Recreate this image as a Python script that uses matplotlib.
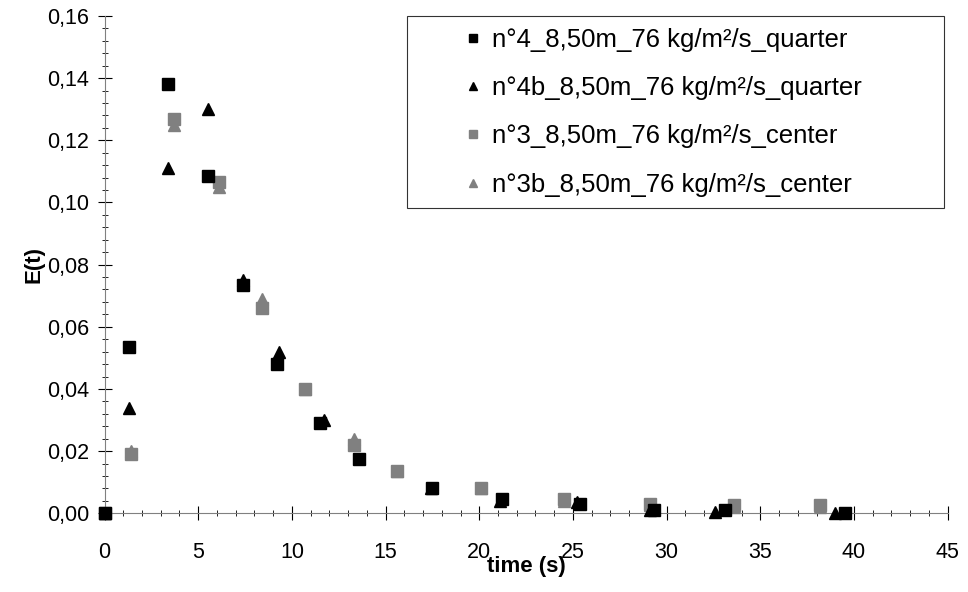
import matplotlib
matplotlib.use("Agg")
import matplotlib.pyplot as plt
from matplotlib.ticker import MultipleLocator, FuncFormatter

plt.rcParams['font.family'] = ['Liberation Sans', 'DejaVu Sans']

# n°4 quarter (black squares)
t4 = [0, 1.3, 3.4, 5.5, 7.4, 9.2, 11.5, 13.6, 17.5, 21.2, 25.4, 29.3, 33.1, 39.5]
e4 = [0, 0.0535, 0.138, 0.1085, 0.0735, 0.048, 0.029, 0.0175, 0.008, 0.0045, 0.003, 0.001, 0.001, 0.0]
# n°4b quarter (black triangles)
t4b = [0, 1.3, 3.4, 5.5, 7.4, 9.3, 11.7, 17.4, 21.1, 25.2, 29.1, 32.6, 39.0]
e4b = [0, 0.034, 0.111, 0.130, 0.075, 0.052, 0.030, 0.008, 0.004, 0.0035, 0.001, 0.0005, 0.0]
# n°3 center (grey squares)
t3 = [0, 1.4, 3.7, 6.1, 8.4, 10.7, 13.3, 15.6, 20.1, 24.5, 29.1, 33.6, 38.2]
e3 = [0, 0.019, 0.127, 0.1065, 0.066, 0.040, 0.022, 0.0135, 0.008, 0.0045, 0.003, 0.0025, 0.0025]
# n°3b center (grey triangles)
t3b = [0, 1.4, 3.7, 6.1, 8.4, 10.7, 13.3, 15.6, 20.1, 24.5, 29.1, 33.6, 38.2]
e3b = [0, 0.020, 0.125, 0.105, 0.069, 0.040, 0.024, 0.0135, 0.008, 0.004, 0.0025, 0.002, 0.002]

labels = ["n°4_8,50m_76 kg/m²/s_quarter", "n°4b_8,50m_76 kg/m²/s_quarter",
          "n°3_8,50m_76 kg/m²/s_center", "n°3b_8,50m_76 kg/m²/s_center"]
GREY = "#808080"

fig = plt.figure(figsize=(9.68, 5.92), dpi=100)
ax = fig.add_axes([0.108, 0.133, 0.871, 0.84])
ax.plot(t4, e4, "s", color="black", ms=8, label=labels[0], zorder=3, clip_on=False)
ax.plot(t4b, e4b, "^", color="black", ms=8, label=labels[1], zorder=3, clip_on=False)
ax.plot(t3, e3, "s", color=GREY, ms=8, label=labels[2], zorder=2, clip_on=False)
ax.plot(t3b, e3b, "^", color=GREY, ms=8, label=labels[3], zorder=2, clip_on=False)

ax.set_xlim(0, 45)
ax.set_ylim(0, 0.16)
ax.xaxis.set_major_locator(MultipleLocator(5))
ax.xaxis.set_minor_locator(MultipleLocator(1))
ax.yaxis.set_major_locator(MultipleLocator(0.02))
ax.yaxis.set_minor_locator(MultipleLocator(0.004))
ax.yaxis.set_major_formatter(FuncFormatter(lambda v, p: f"{v:.2f}".replace(".", ",")))
for s in ("top", "right"):
    ax.spines[s].set_visible(False)
for s in ("left", "bottom"):
    ax.spines[s].set_color(GREY)
ax.tick_params(which="major", direction="inout", length=10, labelsize=15.5, pad=6)
ax.tick_params(axis="x", which="major", pad=16)
ax.tick_params(which="minor", direction="inout", length=5)
ax.set_xlabel("time (s)", fontsize=16, fontweight="bold", labelpad=-5)
ax.set_ylabel("E(t)", fontsize=16, fontweight="bold", labelpad=2)

leg = ax.legend(loc="upper left", bbox_to_anchor=(0.359, 0.624, 0.637, 0.376),
                mode="expand", fontsize=18.5, frameon=True, fancybox=False,
                edgecolor="black", handlelength=4.2, handletextpad=-1.35,
                labelspacing=0.95, borderpad=0.45, borderaxespad=0, markerscale=0.75)
leg.get_frame().set_linewidth(0.8)

fig.savefig("out.png", dpi=100)
